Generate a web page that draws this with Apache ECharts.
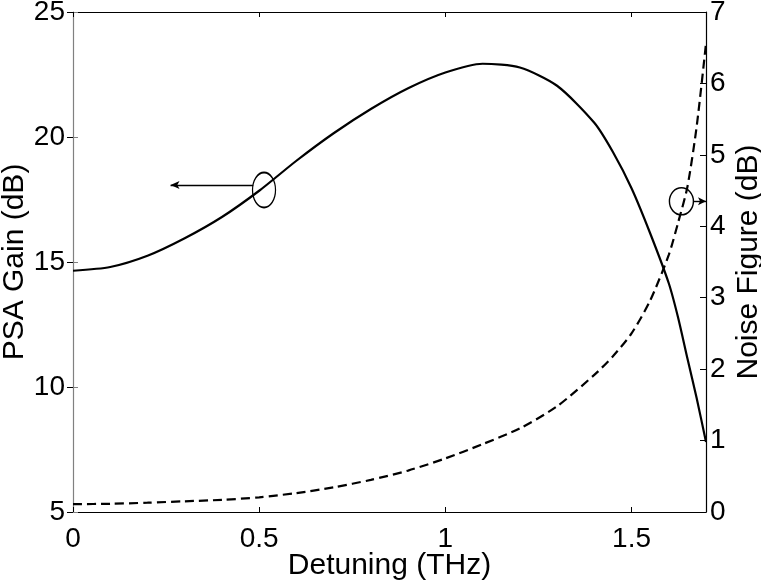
<!DOCTYPE html>
<html>
<head>
<meta charset="utf-8">
<script src="https://cdn.jsdelivr.net/npm/echarts@6/dist/echarts.min.js"></script>
<style>html,body{margin:0;padding:0;background:#fff;}#c{width:761px;height:584px;}</style>
</head>
<body>
<div id="c"></div>
<script>
// Data
var detuning = [0, 0.1, 0.2, 0.3, 0.4, 0.5, 0.6, 0.7, 0.8, 0.9, 1.0, 1.1, 1.2, 1.3, 1.4, 1.45, 1.5, 1.55, 1.6, 1.625, 1.65, 1.675, 1.7];
var psaGain = [14.65, 14.8, 15.25, 15.95, 16.8, 17.85, 19.05, 20.15, 21.12, 21.95, 22.58, 22.93, 22.78, 22.05, 20.57, 19.4, 17.95, 16.15, 14.15, 12.78, 11.15, 9.55, 7.8];
var noiseFigure = [0.11, 0.115, 0.13, 0.15, 0.17, 0.205, 0.265, 0.345, 0.45, 0.58, 0.75, 0.95, 1.17, 1.48, 1.92, 2.18, 2.5, 2.96, 3.6, 4.05, 4.55, 5.4, 6.56];
var xTicks = [0, 0.5, 1, 1.5];
var gainTicks = [5, 10, 15, 20, 25];
var nfTicks = [0, 1, 2, 3, 4, 5, 6, 7];
// annotation anchors (data coordinates)
var gainMarker = [0.513, 17.88];
var gainArrow = [[0.484, 18.08], [0.262, 18.08]];
var nfMarker = [1.634, 4.35];
var nfArrow = [[1.667, 4.35], [1.70, 4.35]];

function pairs(xs, ys) { return xs.map(function (x, i) { return [x, ys[i]]; }); }

var FONT = 'Liberation Sans';
var chart = echarts.init(document.getElementById('c'), null, { renderer: 'canvas' });
var option = {
  animation: false,
  backgroundColor: '#fff',
  textStyle: { fontFamily: FONT, color: '#000' },
  grid: { left: 73, right: 55, top: 12, bottom: 72, containLabel: false, outerBoundsMode: 'none' },
  xAxis: [{
    type: 'value', position: 'bottom',
    min: xTicks[0], max: 1.7, interval: xTicks[1] - xTicks[0],
    name: 'Detuning (THz)', nameLocation: 'middle', nameGap: 39, nameMoveOverlap: false,
    nameTextStyle: { fontSize: 30, fontFamily: FONT, color: '#000' },
    axisLine: { show: true, onZero: false, lineStyle: { color: '#000', width: 1.2 } },
    axisTick: { show: true, inside: true, length: 5, lineStyle: { color: '#000' } },
    axisLabel: { fontSize: 28, fontFamily: FONT, color: '#000', margin: 13, showMaxLabel: false,
      formatter: function (v) { return String(v); } },
    splitLine: { show: false }
  }, {
    type: 'value', position: 'top',
    min: xTicks[0], max: 1.7, interval: xTicks[1] - xTicks[0],
    axisLine: { show: true, onZero: false, lineStyle: { color: '#000', width: 1.2 } },
    axisTick: { show: true, inside: true, length: 5, lineStyle: { color: '#000' } },
    axisLabel: { show: false },
    splitLine: { show: false }
  }],
  yAxis: [{
    type: 'value', position: 'left',
    min: gainTicks[0], max: gainTicks[gainTicks.length - 1], interval: gainTicks[1] - gainTicks[0],
    name: 'PSA Gain (dB)', nameLocation: 'middle', nameGap: 43, nameMoveOverlap: false,
    nameTextStyle: { fontSize: 30, fontFamily: FONT, color: '#000' },
    axisLine: { show: true, onZero: false, lineStyle: { color: '#808080', width: 1.2 } },
    axisTick: { show: true, inside: true, length: 5, lineStyle: { color: '#808080' } },
    axisLabel: { fontSize: 28, fontFamily: FONT, color: '#000', margin: 8 },
    splitLine: { show: false }
  }, {
    type: 'value', position: 'right',
    min: nfTicks[0], max: nfTicks[nfTicks.length - 1], interval: nfTicks[1] - nfTicks[0],
    name: 'Noise Figure (dB)', nameLocation: 'middle', nameGap: 28, nameMoveOverlap: false,
    nameTextStyle: { fontSize: 30, fontFamily: FONT, color: '#000' },
    axisLine: { show: true, onZero: false, lineStyle: { color: '#000', width: 1.2 } },
    axisTick: { show: true, inside: true, length: 6, lineStyle: { color: '#000' } },
    axisLabel: { fontSize: 28, fontFamily: FONT, color: '#000', margin: 4 },
    splitLine: { show: false }
  }, {
    type: 'value', position: 'right',
    min: gainTicks[0], max: gainTicks[gainTicks.length - 1], interval: gainTicks[1] - gainTicks[0],
    axisLine: { show: false },
    axisTick: { show: true, inside: true, length: 6, lineStyle: { color: '#000' } },
    axisLabel: { show: false },
    splitLine: { show: false }
  }],
  series: [{
    name: 'PSA Gain', type: 'line', xAxisIndex: 0, yAxisIndex: 0,
    data: pairs(detuning, psaGain), smooth: 0.25, showSymbol: false, symbol: 'none',
    lineStyle: { color: '#000', width: 2.2, type: 'solid' },
    markPoint: {
      silent: true, animation: false,
      symbol: 'circle', symbolSize: [23, 35],
      itemStyle: { color: 'rgba(0,0,0,0)', borderColor: '#000', borderWidth: 1.5 },
      label: { show: false },
      data: [{ coord: gainMarker }]
    },
    markLine: {
      silent: true, animation: false,
      symbol: ['none', 'arrow'], symbolSize: [6, 9],
      label: { show: false },
      lineStyle: { color: '#000', width: 1.4, type: 'solid' },
      data: [[{ coord: gainArrow[0] }, { coord: gainArrow[1] }]]
    }
  }, {
    name: 'Noise Figure', type: 'line', xAxisIndex: 0, yAxisIndex: 1,
    data: pairs(detuning, noiseFigure), smooth: 0.25, showSymbol: false, symbol: 'none',
    lineStyle: { color: '#000', width: 2.2, type: [9, 5] },
    markPoint: {
      silent: true, animation: false,
      symbol: 'circle', symbolSize: [24, 27],
      itemStyle: { color: 'rgba(0,0,0,0)', borderColor: '#000', borderWidth: 1.5 },
      label: { show: false },
      data: [{ coord: nfMarker }]
    },
    markLine: {
      silent: true, animation: false,
      symbol: ['none', 'arrow'], symbolSize: [6, 8],
      label: { show: false },
      lineStyle: { color: '#000', width: 1.4, type: 'solid' },
      data: [[{ coord: nfArrow[0] }, { coord: nfArrow[1] }]]
    }
  }]
};
chart.setOption(option);
</script>
</body>
</html>
